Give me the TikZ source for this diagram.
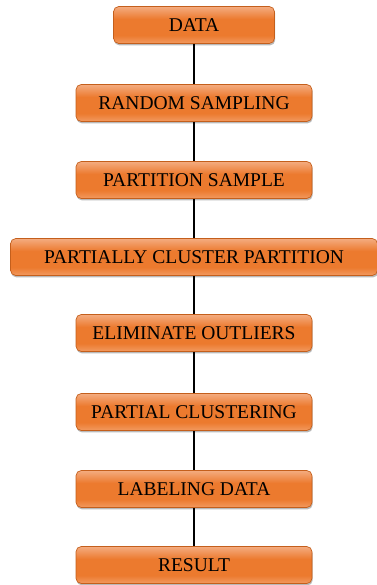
\documentclass[tikz,border=0pt]{standalone}
\usepackage{fontspec}
\setmainfont{Liberation Serif}
\newfontfamily\boxfont{Liberation Serif}
\usetikzlibrary{shadows}

\definecolor{boxmid}{HTML}{EC7A2E}
\definecolor{boxtop}{HTML}{F4AC80}
\definecolor{boxbot}{HTML}{F29A60}
\definecolor{boxline}{HTML}{C45F1C}

\pgfdeclareverticalshading{stageshade}{100bp}{color(0bp)=(boxbot); color(25bp)=(boxbot);
    color(36bp)=(boxmid); color(58bp)=(boxmid); color(75bp)=(boxtop); color(100bp)=(boxtop)}

\tikzset{
    stage/.style={draw=boxline, line width=0.4pt, rounded corners=3pt,
        shading=stageshade,
        minimum width=4.72cm, minimum height=0.74cm, inner sep=0pt,
        font=\boxfont\fontsize{11.1}{13}\selectfont,
        drop shadow={shadow xshift=0.4pt, shadow yshift=-1.1pt, opacity=0.55}},
    link/.style={line width=1.1pt, black}
}

\begin{document}
\begin{tikzpicture}
    \useasboundingbox (0, 0) rectangle (7.54, -11.7);

    \node [stage, minimum width=3.22cm] (data) at (3.88, -0.5) {DATA};
    \node [stage] (sampling) at (3.88, -2.06) {RANDOM SAMPLING};
    \node [stage] (partition) at (3.88, -3.6) {PARTITION SAMPLE};
    \node [stage, minimum width=7.34cm] (partcluster) at (3.88, -5.14) {PARTIALLY CLUSTER PARTITION};
    \node [stage] (outliers) at (3.88, -6.66) {ELIMINATE OUTLIERS};
    \node [stage] (clustering) at (3.88, -8.24) {PARTIAL CLUSTERING};
    \node [stage] (labeling) at (3.88, -9.78) {LABELING DATA};
    \node [stage] (result) at (3.88, -11.3) {RESULT};

    \draw [link] (data) -- (sampling);
    \draw [link] (sampling) -- (partition);
    \draw [link] (partition) -- (partcluster);
    \draw [link] (partcluster) -- (outliers);
    \draw [link] (outliers) -- (clustering);
    \draw [link] (clustering) -- (labeling);
    \draw [link] (labeling) -- (result);
\end{tikzpicture}
\end{document}
